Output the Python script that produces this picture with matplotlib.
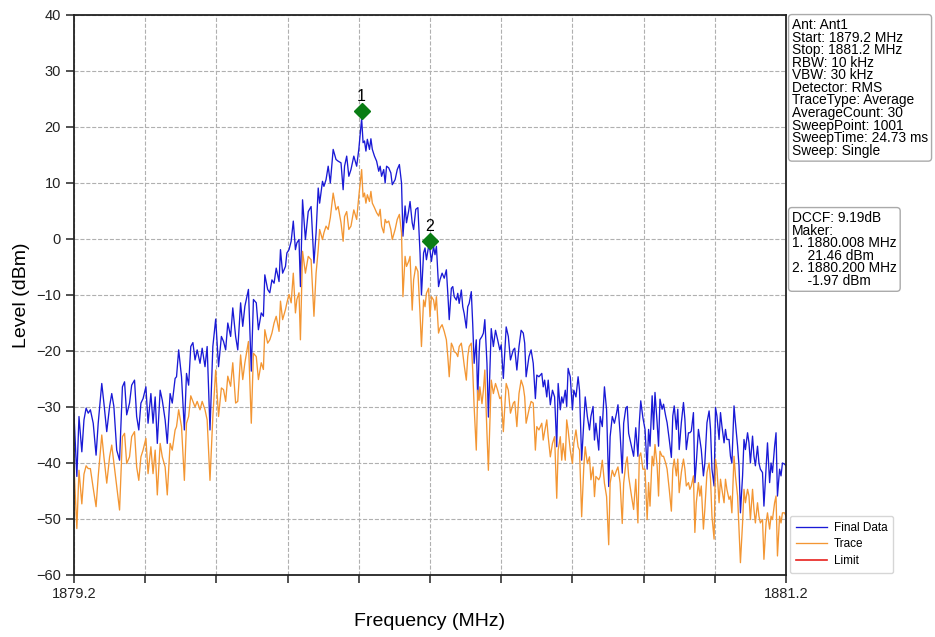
import numpy as np
import matplotlib
matplotlib.use("Agg")
import matplotlib.pyplot as plt

plt.rcParams['font.family'] = ['Liberation Sans', 'DejaVu Sans']

start_mhz = 1879.2
stop_mhz = 1881.2
sweep_points = 1001

# sweep point index, Final Data level, Trace level (dBm)
point_idx = [
    0, 4, 7, 11, 14, 17, 20, 23, 27, 31, 34, 39, 42, 46, 50, 53, 56, 60, 64, 68,
    71, 74, 78, 81, 85, 88, 91, 94, 97, 101, 104, 108, 111, 114, 117, 121, 124, 128, 131, 135,
    138, 142, 144, 147, 151, 155, 158, 161, 164, 167, 170, 173, 177, 180, 184, 187, 191, 195, 199, 203,
    207, 210, 213, 216, 220, 223, 227, 230, 234, 237, 240, 245, 249, 252, 256, 259, 263, 266, 268, 272,
    275, 278, 281, 284, 288, 290, 293, 297, 299, 302, 305, 308, 311, 313, 316, 318, 321, 325, 329, 333,
    337, 340, 343, 345, 349, 351, 354, 357, 360, 364, 368, 371, 375, 378, 380, 383, 386, 389, 393, 397,
    400, 404, 406, 408, 410, 412, 415, 417, 419, 422, 425, 428, 430, 432, 435, 437, 439, 442, 445, 447,
    451, 454, 457, 460, 462, 465, 467, 470, 472, 475, 477, 480, 483, 486, 488, 491, 493, 495, 498, 500,
    502, 505, 507, 509, 512, 514, 517, 520, 523, 525, 527, 530, 532, 534, 537, 539, 541, 544, 546, 548,
    551, 553, 555, 558, 560, 562, 565, 567, 569, 570, 573, 575, 577, 580, 582, 586, 589, 592, 595, 598,
    600, 603, 607, 610, 613, 617, 619, 622, 625, 628, 631, 633, 635, 639, 642, 645, 648, 650, 653, 657,
    659, 661, 664, 666, 669, 672, 675, 678, 680, 683, 685, 687, 690, 692, 694, 697, 700, 702, 705, 708,
    710, 713, 716, 718, 721, 724, 726, 729, 731, 733, 737, 739, 742, 745, 748, 751, 753, 756, 759, 762,
    764, 767, 770, 772, 775, 777, 779, 783, 786, 789, 792, 794, 796, 799, 802, 805, 807, 809, 812, 814,
    816, 819, 821, 823, 826, 828, 831, 833, 836, 839, 841, 843, 846, 848, 850, 853, 856, 858, 860, 863,
    865, 867, 870, 872, 874, 877, 879, 881, 884, 886, 889, 892, 894, 896, 899, 901, 903, 906, 908, 910,
    913, 915, 917, 920, 922, 924, 927, 929, 932, 934, 936, 939, 941, 943, 946, 948, 950, 953, 955, 957,
    960, 962, 964, 967, 969, 972, 974, 977, 979, 981, 984, 986, 988, 991, 993, 995, 998, 1000,
]

final_data = [
    -31.4, -42.4, -31.7, -38.0, -32.3, -30.2, -31.1, -30.5, -32.9, -38.6, -32.9, -25.8, -29.3, -34.4, -29.9, -27.6, -29.9, -37.7, -39.5, -26.4,
    -25.5, -31.4, -29.3, -26.1, -25.2, -31.7, -34.1, -29.3, -28.5, -26.4, -32.9, -27.6, -32.9, -28.2, -36.5, -27.0, -28.8, -32.3, -36.5, -27.6,
    -29.3, -24.9, -24.6, -19.8, -24.6, -34.1, -24.0, -26.1, -19.2, -18.5, -21.6, -19.8, -22.2, -19.5, -22.8, -19.2, -34.1, -19.2, -14.3, -22.8,
    -17.4, -18.3, -19.8, -15.0, -17.4, -12.3, -17.4, -19.8, -11.4, -15.6, -12.0, -9.0, -23.6, -10.8, -11.4, -16.2, -13.2, -13.8, -6.4, -9.0,
    -9.6, -7.3, -7.9, -5.2, -7.6, -1.9, -6.1, -4.9, -2.5, -1.9, -0.4, 3.2, -1.9, -0.7, -0.1, -8.5, 7.0, -0.1, 4.9, 5.8,
    -4.3, 1.1, 9.1, 6.4, 10.3, 9.4, 10.6, 13.0, 10.0, 16.0, 14.2, 13.9, 13.6, 8.8, 13.0, 14.8, 11.2, 12.4, 14.8, 13.0,
    16.0, 21.5, 17.2, 17.5, 15.7, 17.8, 16.0, 17.9, 16.0, 14.8, 13.9, 12.1, 13.0, 11.2, 12.4, 10.0, 13.0, 12.7, 11.8, 9.7,
    10.6, 12.4, 13.3, 10.0, 0.5, 5.9, 2.9, 5.0, 6.7, 2.9, 1.7, 5.3, 5.6, -2.5, -10.0, -2.5, -1.6, -3.7, -1.3, -2.0,
    -4.0, -1.3, -2.8, -1.3, -8.5, -7.3, -6.1, -7.0, -5.5, -9.7, -14.4, -8.8, -8.5, -10.3, -10.9, -9.7, -11.5, -9.1, -12.1, -13.3,
    -15.9, -12.1, -11.5, -9.4, -15.2, -22.2, -18.0, -28.8, -20.4, -18.0, -17.4, -16.8, -14.4, -22.2, -31.8, -16.0, -19.2, -16.3, -18.0, -19.8,
    -18.9, -24.9, -15.7, -17.4, -21.6, -19.8, -19.5, -23.4, -19.2, -16.3, -16.8, -18.6, -24.6, -21.0, -19.8, -22.2, -28.5, -24.3, -24.6, -24.0,
    -26.4, -25.2, -28.2, -25.2, -29.6, -27.0, -28.2, -37.1, -25.8, -30.5, -28.2, -29.3, -27.0, -29.9, -23.1, -24.6, -30.5, -27.0, -28.2, -24.6,
    -27.0, -39.5, -32.9, -28.2, -31.7, -34.1, -31.7, -29.9, -35.9, -32.9, -37.7, -31.7, -33.5, -26.4, -30.5, -44.2, -35.3, -31.7, -32.9, -31.1,
    -29.6, -34.7, -41.8, -32.9, -30.2, -29.9, -34.7, -37.0, -38.8, -33.7, -38.8, -32.8, -28.9, -31.9, -34.0, -41.1, -34.0, -37.0, -28.0, -34.0,
    -27.4, -32.8, -37.0, -28.6, -30.4, -29.5, -31.6, -32.8, -35.8, -39.0, -31.6, -29.8, -34.0, -30.4, -37.6, -32.8, -29.2, -32.2, -37.6, -34.6,
    -34.6, -34.3, -31.0, -43.5, -40.0, -34.0, -35.8, -37.6, -42.3, -40.0, -32.8, -30.7, -34.0, -41.1, -44.1, -30.1, -31.6, -35.8, -31.0, -33.4,
    -36.4, -34.0, -35.8, -35.8, -38.8, -40.0, -29.8, -32.8, -37.0, -40.5, -48.9, -42.3, -35.8, -37.6, -34.6, -36.4, -40.0, -35.2, -38.8, -40.5,
    -37.0, -40.0, -41.1, -41.7, -47.7, -41.1, -36.4, -43.5, -40.0, -41.7, -37.0, -34.6, -45.9, -41.1, -42.3, -40.0, -40.2, -40.5,
]

trace = [
    -40.7, -51.7, -41.3, -47.3, -42.0, -40.5, -41.0, -41.0, -44.5, -47.8, -42.4, -35.0, -38.9, -43.6, -38.9, -36.8, -40.0, -44.2, -48.4, -35.3,
    -34.7, -40.1, -38.9, -35.3, -34.4, -40.7, -43.1, -38.9, -37.7, -35.6, -41.9, -37.1, -41.9, -37.7, -45.7, -36.5, -38.9, -40.7, -45.7, -36.5,
    -37.7, -34.1, -33.5, -30.5, -33.5, -43.1, -32.9, -31.7, -28.0, -29.0, -30.0, -29.0, -30.5, -29.0, -30.5, -32.3, -43.1, -31.7, -23.4, -31.7,
    -26.6, -26.9, -29.0, -24.5, -26.3, -22.1, -29.3, -29.0, -20.7, -25.1, -22.1, -18.3, -32.9, -20.4, -21.0, -25.1, -22.1, -23.3, -16.2, -18.6,
    -18.0, -16.8, -15.0, -13.8, -16.5, -11.1, -14.4, -12.6, -11.4, -9.9, -11.4, -6.1, -13.2, -10.8, -9.6, -18.0, -2.2, -6.1, -3.1, -3.7,
    -13.8, -6.1, -1.9, 1.7, -0.1, 1.1, 2.3, 1.7, 3.8, 8.2, 5.2, 5.8, 2.9, -0.4, 4.0, 4.9, 1.7, 2.3, 5.2, 3.5,
    7.6, 12.4, 7.5, 8.2, 6.4, 7.9, 6.7, 8.5, 6.4, 5.6, 4.7, 4.1, 5.3, 2.3, 1.1, 3.5, 2.9, 3.2, 1.7, -0.1,
    1.7, 3.5, 4.4, 1.1, -10.3, -3.1, -4.9, -4.0, -3.1, -12.7, -7.3, -4.9, -5.8, -13.3, -19.2, -10.9, -12.1, -9.7, -8.8, -13.9,
    -10.3, -10.9, -12.7, -10.3, -16.8, -15.9, -15.3, -16.5, -18.0, -21.0, -24.6, -18.6, -19.2, -20.1, -20.4, -21.0, -19.2, -18.6, -20.4, -22.5,
    -25.2, -21.0, -19.2, -18.6, -23.4, -30.0, -37.7, -27.0, -28.8, -26.4, -29.4, -27.0, -23.4, -34.7, -41.3, -25.2, -27.6, -25.8, -27.0, -28.5,
    -28.2, -34.4, -25.8, -27.0, -31.1, -29.3, -29.0, -33.5, -27.6, -25.2, -26.4, -28.2, -32.9, -30.5, -29.0, -29.3, -37.7, -33.5, -34.1, -32.9,
    -35.9, -34.4, -32.3, -35.3, -38.9, -36.5, -35.3, -46.3, -37.7, -35.3, -39.5, -36.5, -39.5, -32.3, -34.1, -37.7, -40.1, -36.5, -34.1, -37.1,
    -37.7, -49.6, -40.7, -37.1, -40.1, -38.9, -43.0, -40.7, -46.0, -42.4, -43.0, -42.4, -39.5, -43.6, -46.0, -54.6, -43.6, -41.3, -42.4, -41.3,
    -40.7, -43.6, -50.8, -43.6, -40.1, -38.9, -42.4, -45.9, -48.3, -42.9, -50.7, -38.8, -38.2, -41.1, -41.1, -50.1, -43.5, -47.7, -38.8, -40.5,
    -36.7, -40.5, -45.9, -37.9, -38.8, -38.8, -40.0, -41.1, -44.7, -48.6, -41.1, -39.3, -42.3, -39.3, -45.3, -41.7, -39.3, -41.1, -44.1, -43.5,
    -44.7, -44.1, -42.3, -52.4, -47.1, -43.5, -45.9, -44.1, -51.8, -48.3, -41.7, -40.0, -42.9, -49.5, -53.6, -39.3, -41.1, -47.1, -42.9, -44.7,
    -47.1, -42.9, -44.7, -46.5, -45.9, -48.9, -38.8, -42.3, -45.9, -51.8, -57.8, -50.7, -44.7, -47.1, -44.7, -45.9, -50.1, -44.7, -48.3, -50.7,
    -47.1, -49.5, -50.7, -50.1, -57.2, -50.7, -48.9, -51.8, -49.5, -50.1, -47.1, -45.9, -56.6, -49.5, -50.7, -48.9, -48.9, -49.5,
]

marker_freq = [1880.008, 1880.200]
marker_level = [22.9, -0.4]
marker_names = ['1', '2']

info_text = ("Ant: Ant1\nStart: 1879.2 MHz\nStop: 1881.2 MHz\nRBW: 10 kHz\nVBW: 30 kHz\n"
             "Detector: RMS\nTraceType: Average\nAverageCount: 30\nSweepPoint: 1001\n"
             "SweepTime: 24.73 ms\nSweep: Single")
marker_text = ("DCCF: 9.19dB\nMaker:\n1. 1880.008 MHz\n    21.46 dBm\n"
               "2. 1880.200 MHz\n    -1.97 dBm")

freq = start_mhz + np.array(point_idx) * (stop_mhz - start_mhz) / (sweep_points - 1)

fig = plt.figure(figsize=(9.35, 6.37), dpi=100)
ax = fig.add_axes([74 / 935, 1 - 575 / 637, 712 / 935, 560 / 637])

ax.plot(freq, final_data, color='#1a1ad6', lw=0.95, label='Final Data')
ax.plot(freq, trace, color='#f39633', lw=0.95, label='Trace')
ax.plot([], [], color='#e8201c', lw=1.2, label='Limit')

ax.plot(marker_freq, marker_level, linestyle='none', marker='D', color='#0a7d14',
        markersize=8, zorder=5)
for f, lv, name in zip(marker_freq, marker_level, marker_names):
    ax.annotate(name, (f, lv), xytext=(0, 5), textcoords='offset points',
                ha='center', va='bottom', fontsize=11.5)

ax.set_xlim(start_mhz, stop_mhz)
ax.set_ylim(-60, 40)
xt = np.linspace(start_mhz, stop_mhz, 11)
ax.set_xticks(xt)
ax.set_xticklabels(['1879.2'] + [''] * 9 + ['1881.2'])
ax.set_yticks(np.arange(-60, 41, 10))
ax.tick_params(direction='out', length=6, width=1.1, labelsize=10.5, colors='#222222')
ax.tick_params(axis='x', pad=3)
ax.grid(True, linestyle='--', color='#b0b0b0', lw=0.8)
for s in ax.spines.values():
    s.set_color('#222222')
    s.set_linewidth(1.3)

ax.set_xlabel('Frequency (MHz)', fontsize=14, labelpad=8)
ax.set_ylabel('Level (dBm)', fontsize=14, labelpad=4)

box = dict(boxstyle='round,pad=0.25', facecolor='white', edgecolor='#aaaaaa', lw=1)
fig.text(792 / 935, 1 - 18 / 637, info_text, fontsize=9.9, va='top', ha='left',
         linespacing=0.87, bbox=box)
fig.text(792 / 935, 1 - 211 / 637, marker_text, fontsize=9.9, va='top', ha='left',
         linespacing=0.87, bbox=box)

fig.legend(loc='lower left', bbox_to_anchor=(790 / 935, 1 - 573 / 637), fontsize=8.5,
           frameon=True, edgecolor='#cccccc', handlelength=2.6, handletextpad=0.6,
           borderpad=0.5, labelspacing=0.4, borderaxespad=0)

fig.savefig('out.png', dpi=100)
